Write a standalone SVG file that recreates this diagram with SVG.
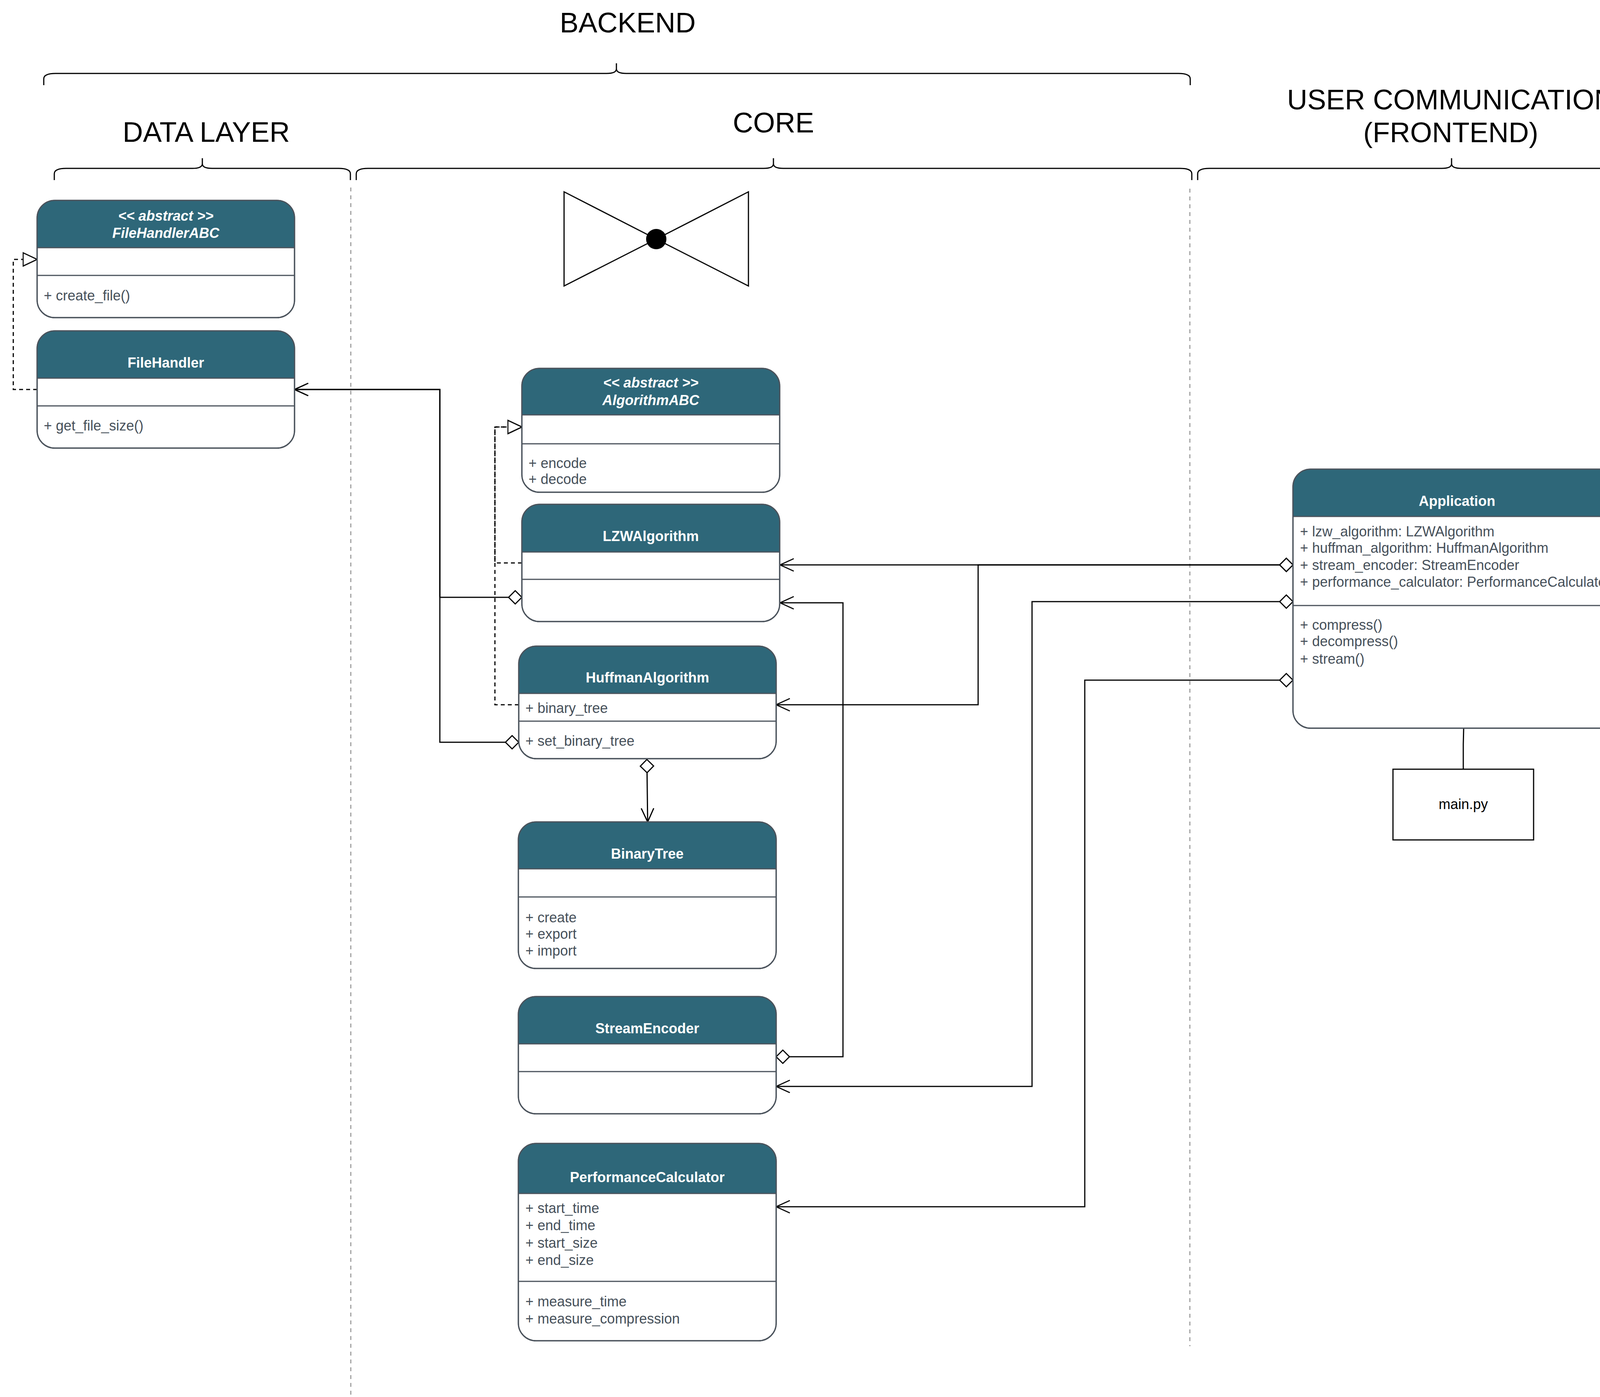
<svg xmlns="http://www.w3.org/2000/svg" width="5154" height="3576" viewBox="0 0 5154 3576">
<style>
.bg{fill:#ffffff}
.body{fill:#ffffff;stroke:#4B535C;stroke-width:3}
.frame{fill:none;stroke:#4B535C;stroke-width:3}
.hdr{fill:#2E6779}
.div{stroke:#4B535C;stroke-width:3;fill:none}
.title{font-family:"Liberation Sans",Arial,sans-serif;font-size:36px;font-weight:bold;fill:#ffffff;text-anchor:middle}
.abs{font-style:italic}
.mem{font-family:"Liberation Sans",Arial,sans-serif;font-size:36px;fill:#46505A}
.layer{font-family:"Liberation Sans",Arial,sans-serif;font-size:72px;fill:#000000;text-anchor:middle}
.big{font-family:"Liberation Sans",Arial,sans-serif;font-size:90px;fill:#000000}
.brace{fill:none;stroke:#000000;stroke-width:3}
.sep{fill:none;stroke:#A0A0A0;stroke-width:3;stroke-dasharray:10 10}
.edge{fill:none;stroke:#000000;stroke-width:3}
.dash{stroke-dasharray:10 8}
.plain{fill:#ffffff;stroke:#000000;stroke-width:3}
.plaintext{font-family:"Liberation Sans",Arial,sans-serif;font-size:36px;fill:#000000;text-anchor:middle}
</style>
<defs>
<marker id="open" viewBox="0 0 40 40" refX="37" refY="20" markerWidth="40" markerHeight="40" markerUnits="userSpaceOnUse" orient="auto">
<path d="M2,4 L37,20 L2,36" fill="none" stroke="#000000" stroke-width="3"/>
</marker>
<marker id="diamond" viewBox="0 0 40 40" refX="3" refY="20" markerWidth="40" markerHeight="40" markerUnits="userSpaceOnUse" orient="auto">
<path d="M3,20 L20,3 L37,20 L20,37 Z" fill="#ffffff" stroke="#000000" stroke-width="3"/>
</marker>
<marker id="tri" viewBox="0 0 40 40" refX="37" refY="20" markerWidth="40" markerHeight="40" markerUnits="userSpaceOnUse" orient="auto">
<path d="M1,3 L37,20 L1,37 Z" fill="#ffffff" stroke="#000000" stroke-width="3"/>
</marker>
</defs>
<rect class="bg" x="0" y="0" width="5154" height="3576"/>

<g id="layers">
<text class="layer" x="1607" y="83">BACKEND</text>
<path class="brace" d="M112,218 L112,202 Q112,188 142,188 L1553,188 Q1578,188 1578,176 L1578,162 M1578,176 Q1578,188 1603,188 L3017,188 Q3047,188 3047,202 L3047,218"/>
<text class="layer" x="528" y="363">DATA LAYER</text>
<path class="brace" d="M139,461 L139,445 Q139,431 169,431 L493,431 Q518,431 518,419 L518,405 M518,419 Q518,431 543,431 L867,431 Q897,431 897,445 L897,461"/>
<text class="layer" x="1980" y="339">CORE</text>
<path class="brace" d="M912,461 L912,445 Q912,431 942,431 L1955,431 Q1980,431 1980,419 L1980,405 M1980,419 Q1980,431 2005,431 L3021,431 Q3051,431 3051,445 L3051,461"/>
<text class="layer" x="3714" y="280">USER COMMUNICATION</text>
<text class="layer" x="3714" y="364">(FRONTEND)</text>
<path class="brace" d="M3066,461 L3066,445 Q3066,431 3096,431 L3691,431 Q3716,431 3716,419 L3716,405 M3716,419 Q3716,431 3741,431 L4332,431 Q4362,431 4362,445 L4362,461"/>
<text class="big" x="4402" y="310">Multi-Layered</text>
<text class="big" x="4400" y="416">Architecture</text>
<path class="sep" d="M898,480 L898,3576"/>
<path class="sep" d="M3046,483 L3046,3446"/>
</g>

<g id="bowtie">
<path d="M1444,491 L1680,612 L1444,732 Z M1916,491 L1680,612 L1916,732 Z" fill="#ffffff" stroke="#000000" stroke-width="3"/>
<circle cx="1680" cy="612" r="26" fill="#000000"/>
</g>

<g id="connectors">
<path class="edge dash" d="M95,997 L34,997 L34,664 L95,664" marker-end="url(#tri)"/>
<path class="edge dash" d="M1336,1441 L1267,1441 L1267,1093 L1336,1093" marker-end="url(#tri)"/>
<path class="edge dash" d="M1328,1804 L1267,1804 L1267,1093 L1336,1093" marker-end="url(#tri)"/>
<path class="edge" d="M1336,1529 L1126,1529 L1126,997 L754,997" marker-start="url(#diamond)" marker-end="url(#open)"/>
<path class="edge" d="M1328,1900 L1126,1900 L1126,997 L754,997" marker-start="url(#diamond)" marker-end="url(#open)"/>
<path class="edge" d="M1656,1944 L1658,2104" marker-start="url(#diamond)" marker-end="url(#open)"/>
<path class="edge" d="M3310,1446 L2504,1446 L1997,1446" marker-start="url(#diamond)" marker-end="url(#open)"/>
<path class="edge" d="M3310,1446 L2504,1446 L2504,1804 L1987,1804" marker-start="url(#diamond)" marker-end="url(#open)"/>
<path class="edge" d="M3310,1540 L2642,1540 L2642,2781 L1987,2781" marker-start="url(#diamond)" marker-end="url(#open)"/>
<path class="edge" d="M3310,1741 L2777,1741 L2777,3089 L1987,3089" marker-start="url(#diamond)" marker-end="url(#open)"/>
<path class="edge" d="M1987,2705 L2158,2705 L2158,1543 L1997,1543" marker-start="url(#diamond)" marker-end="url(#open)"/>
<path class="edge" d="M3747,1864 L3746,1905 L3746,1969"/>
</g>

<g id="FileHandlerABC">
<rect class="body" x="95" y="513" width="659" height="300" rx="45"/>
<path class="hdr" d="M95,634 V558 A45,45 0 0 1 140,513 H709 A45,45 0 0 1 754,558 V634 Z"/>
<rect class="frame" x="95" y="513" width="659" height="300" rx="45"/>
<path class="div" d="M95,634 H754 M95,705 H754"/>
<text class="title abs" x="424.5" y="565">&lt;&lt; abstract &gt;&gt;</text>
<text class="title abs" x="424.5" y="609">FileHandlerABC</text>
<text class="mem" x="112" y="769">+ create_file()</text>
</g>

<g id="FileHandler">
<rect class="body" x="95" y="847" width="659" height="300" rx="45"/>
<path class="hdr" d="M95,968 V892 A45,45 0 0 1 140,847 H709 A45,45 0 0 1 754,892 V968 Z"/>
<rect class="frame" x="95" y="847" width="659" height="300" rx="45"/>
<path class="div" d="M95,968 H754 M95,1039 H754"/>
<text class="title" x="424.5" y="941">FileHandler</text>
<text class="mem" x="112" y="1102">+ get_file_size()</text>
</g>

<g id="AlgorithmABC">
<rect class="body" x="1336" y="943" width="660" height="317" rx="45"/>
<path class="hdr" d="M1336,1062 V988 A45,45 0 0 1 1381,943 H1951 A45,45 0 0 1 1996,988 V1062 Z"/>
<rect class="frame" x="1336" y="943" width="660" height="317" rx="45"/>
<path class="div" d="M1336,1062 H1996 M1336,1136 H1996"/>
<text class="title abs" x="1666" y="992">&lt;&lt; abstract &gt;&gt;</text>
<text class="title abs" x="1666" y="1037">AlgorithmABC</text>
<text class="mem" x="1353" y="1198">+ encode</text>
<text class="mem" x="1353" y="1239">+ decode</text>
</g>

<g id="LZWAlgorithm">
<rect class="body" x="1336" y="1291" width="660" height="300" rx="45"/>
<path class="hdr" d="M1336,1413 V1336 A45,45 0 0 1 1381,1291 H1951 A45,45 0 0 1 1996,1336 V1413 Z"/>
<rect class="frame" x="1336" y="1291" width="660" height="300" rx="45"/>
<path class="div" d="M1336,1413 H1996 M1336,1483 H1996"/>
<text class="title" x="1666" y="1385">LZWAlgorithm</text>
</g>

<g id="HuffmanAlgorithm">
<rect class="body" x="1328" y="1654" width="659" height="288" rx="45"/>
<path class="hdr" d="M1328,1775 V1699 A45,45 0 0 1 1373,1654 H1942 A45,45 0 0 1 1987,1699 V1775 Z"/>
<rect class="frame" x="1328" y="1654" width="659" height="288" rx="45"/>
<path class="div" d="M1328,1775 H1987 M1328,1846 H1987"/>
<text class="title" x="1657.5" y="1747">HuffmanAlgorithm</text>
<text class="mem" x="1345" y="1825">+ binary_tree</text>
<text class="mem" x="1345" y="1909">+ set_binary_tree</text>
</g>

<g id="BinaryTree">
<rect class="body" x="1327" y="2104" width="660" height="375" rx="45"/>
<path class="hdr" d="M1327,2224 V2149 A45,45 0 0 1 1372,2104 H1942 A45,45 0 0 1 1987,2149 V2224 Z"/>
<rect class="frame" x="1327" y="2104" width="660" height="375" rx="45"/>
<path class="div" d="M1327,2224 H1987 M1327,2296 H1987"/>
<text class="title" x="1657" y="2198">BinaryTree</text>
<text class="mem" x="1345" y="2361">+ create</text>
<text class="mem" x="1345" y="2403">+ export</text>
<text class="mem" x="1345" y="2446">+ import</text>
</g>

<g id="StreamEncoder">
<rect class="body" x="1327" y="2551" width="660" height="300" rx="45"/>
<path class="hdr" d="M1327,2672 V2596 A45,45 0 0 1 1372,2551 H1942 A45,45 0 0 1 1987,2596 V2672 Z"/>
<rect class="frame" x="1327" y="2551" width="660" height="300" rx="45"/>
<path class="div" d="M1327,2672 H1987 M1327,2743 H1987"/>
<text class="title" x="1657" y="2645">StreamEncoder</text>
</g>

<g id="PerformanceCalculator">
<rect class="body" x="1327" y="2927" width="660" height="505" rx="45"/>
<path class="hdr" d="M1327,3055 V2972 A45,45 0 0 1 1372,2927 H1942 A45,45 0 0 1 1987,2972 V3055 Z"/>
<rect class="frame" x="1327" y="2927" width="660" height="505" rx="45"/>
<path class="div" d="M1327,3055 H1987 M1327,3280 H1987"/>
<text class="title" x="1657" y="3026">PerformanceCalculator</text>
<text class="mem" x="1345" y="3105">+ start_time</text>
<text class="mem" x="1345" y="3149">+ end_time</text>
<text class="mem" x="1345" y="3194">+ start_size</text>
<text class="mem" x="1345" y="3238">+ end_size</text>
<text class="mem" x="1345" y="3344">+ measure_time</text>
<text class="mem" x="1345" y="3388">+ measure_compression</text>
</g>

<g id="Application">
<rect class="body" x="3310" y="1201" width="840" height="663" rx="45"/>
<path class="hdr" d="M3310,1322 V1246 A45,45 0 0 1 3355,1201 H4105 A45,45 0 0 1 4150,1246 V1322 Z"/>
<rect class="frame" x="3310" y="1201" width="840" height="663" rx="45"/>
<path class="div" d="M3310,1322 H4150 M3310,1550 H4150"/>
<text class="title" x="3730" y="1295">Application</text>
<text class="mem" x="3328" y="1373">+ lzw_algorithm: LZWAlgorithm</text>
<text class="mem" x="3328" y="1415">+ huffman_algorithm: HuffmanAlgorithm</text>
<text class="mem" x="3328" y="1459">+ stream_encoder: StreamEncoder</text>
<text class="mem" x="3328" y="1502">+ performance_calculator: PerformanceCalculator</text>
<text class="mem" x="3328" y="1612">+ compress()</text>
<text class="mem" x="3328" y="1654">+ decompress()</text>
<text class="mem" x="3328" y="1699">+ stream()</text>
</g>

<g id="main_py">
<rect class="plain" x="3566" y="1969" width="360" height="181"/>
<text class="plaintext" x="3746" y="2071">main.py</text>
</g>
</svg>
